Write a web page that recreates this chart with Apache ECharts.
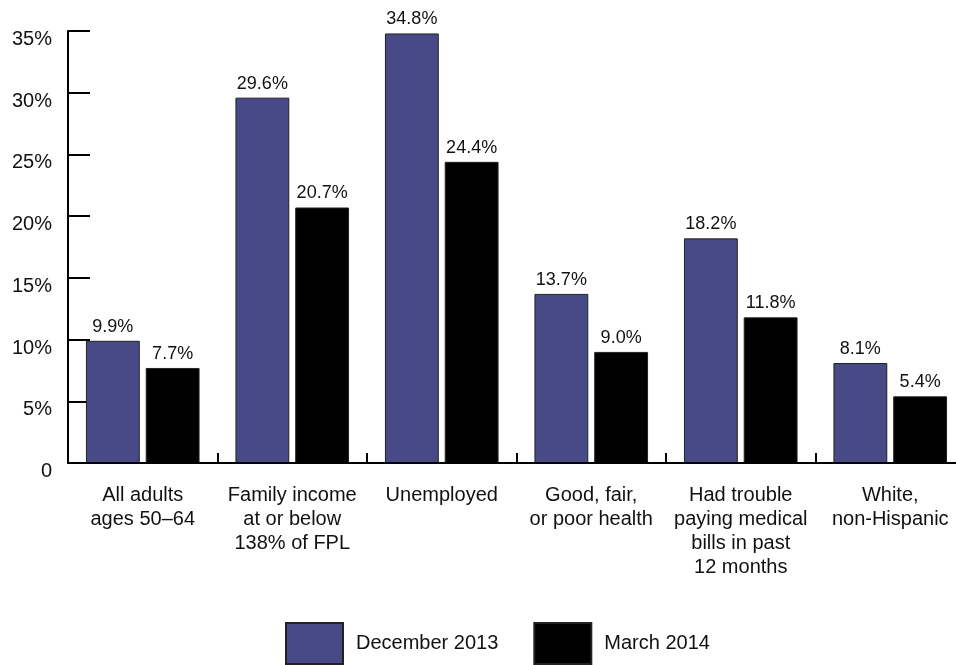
<!DOCTYPE html>
<html><head><meta charset="utf-8">
<script src="https://cdn.jsdelivr.net/npm/echarts@6/dist/echarts.min.js"></script>
<style>html,body{margin:0;padding:0;background:#fff;overflow:hidden}#c{width:956px;height:665px}</style>
</head><body><div id="c"></div>
<script>
var categories = ["All adults\nages 50\u201364", "Family income\nat or below\n138% of FPL", "Unemployed", "Good, fair,\nor poor health", "Had trouble\npaying medical\nbills in past\n12 months", "White,\nnon-Hispanic"];
var dec2013 = [9.9, 29.6, 34.8, 13.7, 18.2, 8.1];
var mar2014 = [7.7, 20.7, 24.4, 9.0, 11.8, 5.4];
var yTicks = [0, 5, 10, 15, 20, 25, 30, 35];

var font = "Liberation Sans, Arial, sans-serif";
var chart = echarts.init(document.getElementById('c'));
var lbl = {show:true, position:'top', distance:5, color:'#111', fontSize:18, fontFamily:font,
  formatter:function(p){return p.value.toFixed(1)+'%';}};
chart.setOption({
  animation:false,
  grid:{left:68, top:31, width:897, bottom:202, containLabel:false, outerBoundsMode:'none'},
  legend:{top:622, left:285, padding:0, itemWidth:57, itemHeight:41, itemGap:35, icon:'rect',
    textStyle:{fontSize:20, fontFamily:font, color:'#111', padding:[0,0,0,8]},
    data:['December 2013','March 2014']},
  xAxis:{type:'category', data:categories, z:10,
    axisLine:{lineStyle:{color:'#000', width:2}},
    axisTick:{show:true, interval:0, alignWithLabel:false, inside:true, length:10, lineStyle:{color:'#000', width:2}},
    axisLabel:{interval:0, margin:20, color:'#111', fontSize:20, fontFamily:font, lineHeight:24, align:'center'}},
  yAxis:{type:'value', min:yTicks[0], max:yTicks[yTicks.length-1], interval:5,
    splitLine:{show:false},
    axisLine:{show:true, lineStyle:{color:'#000', width:2}},
    axisTick:{show:true, inside:true, length:22, lineStyle:{color:'#000', width:2}},
    axisLabel:{margin:16, color:'#111', fontSize:20, fontFamily:font, verticalAlign:'top', lineHeight:17,
      formatter:function(v){return v===0?'0':v+'%';}}},
  series:[
    {name:'December 2013', type:'bar', data:dec2013, barGap:'11%', barCategoryGap:'24%',
     itemStyle:{color:'#474a86', borderColor:'#222', borderWidth:1}, label:lbl},
    {name:'March 2014', type:'bar', data:mar2014,
     itemStyle:{color:'#000', borderColor:'#222', borderWidth:1}, label:lbl}
  ]
});
</script></body></html>
